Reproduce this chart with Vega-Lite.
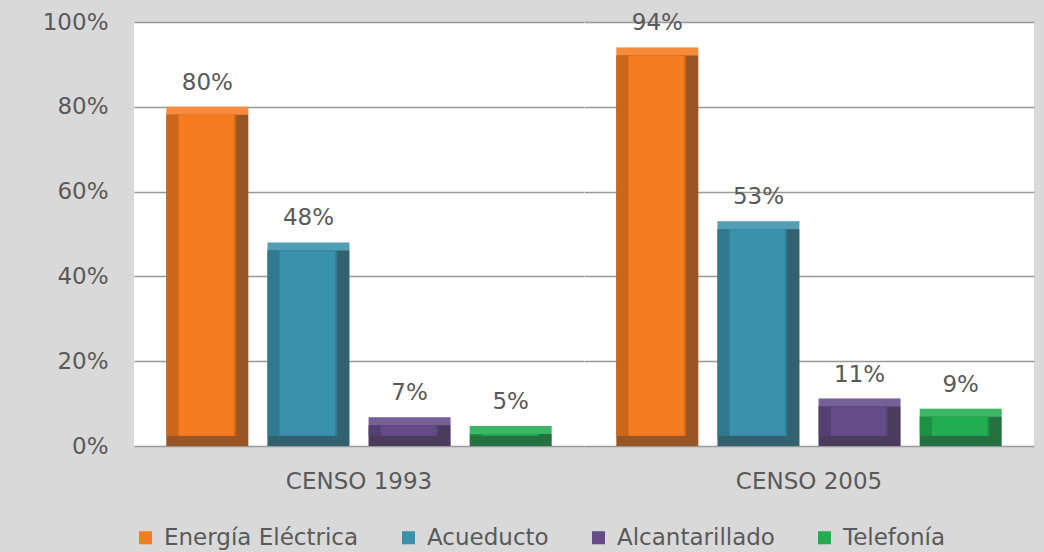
{
  "$schema": "https://vega.github.io/schema/vega-lite/v6.json",
  "padding": {"left": 42, "top": 11, "right": 10, "bottom": 5},
  "background": "#d9d9d9",
  "config": {
    "view": {"fill": "white", "stroke": null},
    "font": "DejaVu Sans",
    "axis": {"labelColor": "#595959", "labelFontSize": 23, "ticks": false, "domain": false, "title": null, "gridColor": "#999999", "gridWidth": 1.4}
  },
  "data": {
    "values": [
      {"censo": "CENSO 1993", "servicio": "Energía Eléctrica", "valor": 0.80},
      {"censo": "CENSO 1993", "servicio": "Acueducto", "valor": 0.48},
      {"censo": "CENSO 1993", "servicio": "Alcantarillado", "valor": 0.068},
      {"censo": "CENSO 1993", "servicio": "Telefonía", "valor": 0.047},
      {"censo": "CENSO 2005", "servicio": "Energía Eléctrica", "valor": 0.94},
      {"censo": "CENSO 2005", "servicio": "Acueducto", "valor": 0.53},
      {"censo": "CENSO 2005", "servicio": "Alcantarillado", "valor": 0.112},
      {"censo": "CENSO 2005", "servicio": "Telefonía", "valor": 0.088}
    ]
  },
  "facet": {
    "column": {"field": "censo", "type": "nominal", "header": {"labelOrient": "bottom", "title": null, "labelFontSize": 23, "labelColor": "#595959", "labelPadding": 25, "labelFont": "DejaVu Sans"}}
  },
  "spacing": 0,
  "spec": {
    "width": 450,
    "height": 424,
    "encoding": {
      "x": {"field": "servicio", "type": "nominal", "sort": ["Energía Eléctrica", "Acueducto", "Alcantarillado", "Telefonía"], "scale": {"paddingInner": 0.19, "paddingOuter": 0.32}, "axis": null},
      "y": {"field": "valor", "type": "quantitative", "scale": {"domain": [0, 1]}, "axis": {"values": [0, 0.2, 0.4, 0.6, 0.8, 1], "format": ".0%", "labelPadding": 26, "grid": true, "ticks": false, "domain": false}}
    },
    "layer": [
      {
        "mark": {"type": "bar"},
        "encoding": {
          "color": {
            "field": "servicio", "type": "nominal",
            "sort": ["Energía Eléctrica", "Acueducto", "Alcantarillado", "Telefonía"],
            "scale": {"domain": ["Energía Eléctrica", "Acueducto", "Alcantarillado", "Telefonía"], "range": ["#f47b20", "#3a91ab", "#644c88", "#22ad52"]},
            "legend": {"orient": "none", "legendX": 0, "legendY": 504, "direction": "horizontal", "title": null, "symbolType": "square", "symbolSize": 170, "symbolStrokeWidth": 0, "labelFontSize": 23, "labelColor": "#595959", "labelLimit": 400, "columnPadding": 38, "labelOffset": 7}
          }
        }
      },
      {
        "mark": {"type": "bar", "color": "white", "opacity": 0.12}
      },
      {
        "mark": {"type": "bar", "color": "black", "opacity": 0.38, "yOffset": 8},
        "encoding": {"y2": {"datum": 0}}
      },
      {
        "mark": {"type": "bar", "width": {"band": 0.85}, "xOffset": -6, "yOffset": 8},
        "encoding": {"color": {"field": "servicio", "type": "nominal"}, "y2": {"datum": 0.024}}
      },
      {
        "mark": {"type": "bar", "color": "black", "opacity": 0.16, "width": {"band": 0.85}, "xOffset": -6, "yOffset": 8},
        "encoding": {"y2": {"datum": 0.024}}
      },
      {
        "mark": {"type": "bar", "width": {"band": 0.68}, "xOffset": -1, "yOffset": 8},
        "encoding": {"color": {"field": "servicio", "type": "nominal"}, "y2": {"datum": 0.024}}
      },
      {
        "mark": {"type": "text", "dy": -12, "baseline": "bottom", "fontSize": 23, "color": "#595959"},
        "encoding": {"text": {"field": "valor", "type": "quantitative", "format": ".0%"}}
      }
    ]
  }
}
